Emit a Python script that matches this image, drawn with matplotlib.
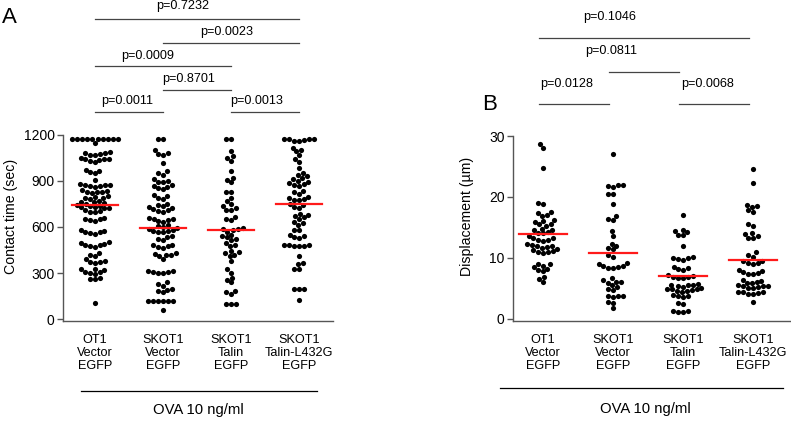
import numpy as np
import matplotlib.pyplot as plt
import matplotlib.transforms as mtransforms
from matplotlib.lines import Line2D

plt.rcParams['font.family'] = ['Liberation Sans', 'DejaVu Sans']

W, H = 791, 422  # output size in pixels

## Data
groups = ['OT1\nVector\nEGFP', 'SKOT1\nVector\nEGFP',
          'SKOT1\nTalin\nEGFP', 'SKOT1\nTalin-L432G\nEGFP']
condition = 'OVA 10 ng/ml'

# Panel A: contact time (sec)
contact_ot1 = [1170, 1170, 1170, 1170, 1170, 1170, 1170, 1170, 1170, 1170,
               1145, 1080, 1075, 1070, 1085, 1065, 1078,
               1040, 1035, 1045, 1030, 1038, 1042, 1020, 965, 970, 955, 950, 905,
               875, 870, 865, 872, 868, 860, 878, 835, 830, 825, 820, 838, 828,
               795, 790, 785, 800, 780, 765, 760, 755, 770, 750,
               735, 730, 725, 740, 720, 728, 738, 705, 700, 695, 710,
               660, 650, 640, 655, 645, 580, 575, 560, 555, 565, 570,
               500, 495, 485, 480, 475, 490, 470, 430, 420, 410,
               390, 380, 370, 365, 375, 330, 325, 320, 310, 300, 305, 295,
               265, 262, 268, 110]
contact_skot1 = [1170, 1170, 1100, 1080, 1075, 1070, 1017, 960, 950, 940,
                 910, 900, 895, 890, 870, 865, 860, 850, 845, 810, 800, 790, 780,
                 750, 745, 735, 730, 720, 715, 710, 705, 700,
                 660, 655, 650, 645, 640, 635, 612, 605, 600, 595, 590,
                 580, 577, 573, 570, 566, 540, 533, 525, 517,
                 485, 480, 475, 470, 465, 430, 425, 420, 415, 410, 390,
                 315, 312, 310, 307, 303, 300, 240, 230, 220, 200, 192, 185, 177,
                 123, 123, 123, 123, 123, 123, 64]
contact_talin = [1170, 1170, 1092, 1060, 1045, 1030, 964, 920, 905, 890,
                 825, 825, 785, 770, 750, 735, 720, 709, 709, 666, 655, 645,
                 592, 588, 585, 580, 570, 550, 540, 533, 525, 517, 496, 485, 475,
                 443, 435, 428, 418, 410, 379, 325, 304, 272, 255, 240,
                 187, 175, 166, 102, 102, 102]
contact_l432g = [1170, 1170, 1170, 1165, 1160, 1160, 1170, 1113, 1100, 1092,
                 1064, 1040, 1021, 985, 953, 940, 930, 920, 910,
                 900, 893, 885, 880, 873, 868, 836, 825, 815,
                 794, 788, 780, 776, 772, 751, 740, 730, 720,
                 687, 678, 670, 662, 655, 634, 625, 613, 581, 581,
                 549, 540, 535, 528, 485, 482, 480, 478, 476, 475,
                 411, 368, 357, 325, 325, 198, 198, 198, 128]
contact_mean = [745, 595, 578, 752]
contact_tests = [(0, 3, 'p=0.7232'), (1, 3, 'p=0.0023'), (0, 2, 'p=0.0009'),
                 (1, 2, 'p=0.8701'), (0, 1, 'p=0.0011'), (2, 3, 'p=0.0013')]

# Panel B: displacement (um)
disp_ot1 = [28.7, 28.0, 24.8, 19.0, 18.8, 17.5, 17.3, 17.0, 16.8, 16.2, 16.0,
            15.8, 15.5, 15.6, 15.2, 14.8, 14.6, 14.5, 14.2, 14.0, 14.1, 13.5,
            13.3, 13.2, 13.0, 12.8, 12.9, 12.2, 12.0, 12.1, 11.9, 11.8, 11.6,
            11.5, 11.2, 11.1, 11.0, 10.9, 10.8, 9.0, 8.9, 8.7, 8.5, 8.2, 8.0,
            7.8, 6.8, 6.5, 6.0]
disp_skot1 = [27.0, 21.9, 21.8, 21.7, 21.9, 20.4, 20.5, 18.8, 16.8, 16.3, 16.2,
              14.4, 13.6, 12.3, 12.0, 11.6, 11.4, 10.4, 10.2, 9.1, 9.0, 8.6,
              8.4, 8.5, 8.4, 8.6, 6.6, 6.3, 6.1, 5.9, 6.0, 5.5, 5.2, 4.9, 4.7,
              3.8, 3.7, 3.6, 3.8, 2.8, 2.6, 1.7]
disp_talin = [17.1, 14.6, 14.4, 14.2, 13.8, 13.7, 12.0, 10.1, 10.0, 9.9, 9.8,
              9.7, 8.5, 8.3, 8.1, 8.0, 7.1, 7.0, 6.9, 6.8, 6.6, 6.7, 5.7, 5.6,
              5.5, 5.4, 5.6, 5.2, 5.0, 4.9, 4.8, 4.7, 4.6, 4.5, 4.4, 4.9, 3.9,
              3.8, 3.6, 3.7, 2.6, 2.4, 1.2, 1.1, 1.2, 1.1]
disp_l432g = [24.6, 22.3, 18.7, 18.5, 18.4, 17.6, 17.8, 15.5, 15.2, 14.0, 13.9,
              13.5, 13.3, 13.2, 10.9, 10.5, 10.2, 9.5, 9.4, 9.2, 9.0, 9.1, 8.0,
              7.8, 7.6, 7.4, 7.3, 7.5, 6.4, 6.2, 6.0, 5.9, 5.8, 5.5, 5.4, 5.2,
              5.1, 5.0, 5.3, 5.4, 4.4, 4.3, 4.2, 4.1, 4.0, 4.3, 2.8]
disp_mean = [13.9, 10.8, 7.0, 9.7]
disp_tests = [(0, 3, 'p=0.1046'), (1, 2, 'p=0.0811'),
              (0, 1, 'p=0.0128'), (2, 3, 'p=0.0068')]

## Layout (pixels): line y, text x, text y for each comparison
contact_bar_px = [(19, 183, 6), (43, 227, 32), (66, 148, 56),
                  (90, 189, 79), (112, 127, 101), (112, 257, 101)]
disp_bar_px = [(38, 610, 17), (72, 611, 51), (104, 567, 84), (104, 708, 84)]

spine_col = '#555555'


def swarm_x(ax, xc, vals, d=5.0):
    # simple beeswarm: offsets in pixel space, returned as data x
    pts = ax.transData.transform(np.column_stack([np.full(len(vals), xc), vals]))
    ys = pts[:, 1]
    x0 = ax.transData.transform((xc, 0))[0]
    offs = np.zeros(len(vals))
    placed = []
    for i in np.argsort(ys):
        y = ys[i]
        forb = []
        for px, py in placed:
            dy = abs(y - py)
            if dy < d:
                w = np.sqrt(d * d - dy * dy)
                forb.append((px - w, px + w))
        cands = [0.0] + [a for a, b in forb] + [b for a, b in forb]
        cands.sort(key=lambda c: (abs(c), c))
        for c in cands:
            if all(not (a + 1e-6 < c < b - 1e-6) for a, b in forb):
                break
        placed.append((c, y))
        offs[i] = c
    inv = ax.transData.inverted()
    return np.array([inv.transform((x0 + o, 0))[0] for o in offs])


def panel(fig, rect, xlim, data, means, ylim, yticks, ylabel, ylabel_px,
          tests, bar_px, bar_shift, under_line_px, cond_px):
    ax = fig.add_axes(rect)
    ax.set_xlim(*xlim)
    ax.set_ylim(*ylim)
    ax.set_yticks(yticks)
    ax.set_xticks([])
    for s in ['top', 'right']:
        ax.spines[s].set_visible(False)
    for s in ['left', 'bottom']:
        ax.spines[s].set_color(spine_col)
        ax.spines[s].set_linewidth(1.0)
    ax.tick_params(axis='y', length=4, width=1.0, color=spine_col,
                   labelsize=10, pad=2)

    for k, vals in enumerate(data):
        xs = swarm_x(ax, k, vals)
        ax.scatter(xs, vals, s=14, color='black', linewidths=0, zorder=3)
        ax.plot([k - 0.34, k + 0.34], [means[k], means[k]], color='#ff1a1a',
                lw=1.6, zorder=4)

    tr = mtransforms.blended_transform_factory(ax.transData, fig.transFigure)
    for k, g in enumerate(groups):
        ax.text(k, 1 - 353 / H, g, transform=tr, ha='center', va='center',
                fontsize=9.1, linespacing=1.1)

    for (i, j, p), (ly, tx, ty) in zip(tests, bar_px):
        fig.add_artist(Line2D([i + bar_shift, j + bar_shift], [1 - ly / H] * 2,
                              transform=tr, color='#444444', lw=0.9))
        fig.text(tx / W, 1 - ty / H, p, ha='center', va='center', fontsize=9.1)

    x0, x1, yl = under_line_px
    fig.add_artist(Line2D([x0 / W, x1 / W], [1 - yl / H] * 2,
                          transform=fig.transFigure, color='black', lw=0.9))
    fig.text(cond_px[0] / W, 1 - cond_px[1] / H, condition, ha='center',
             va='center', fontsize=10.7)
    fig.text(ylabel_px[0] / W, 1 - ylabel_px[1] / H, ylabel, rotation=90,
             ha='center', va='center', fontsize=10.2)
    return ax


fig = plt.figure(figsize=(W / 100, H / 100), dpi=100)

rectA = [63 / W, 1 - 321 / H, 270 / W, (321 - 134.5) / H]
rectB = [513 / W, 1 - 320.5 / H, 277 / W, (320.5 - 136) / H]

panel(fig, rectA, (-0.47, 3.5),
      [contact_ot1, contact_skot1, contact_talin, contact_l432g],
      contact_mean, (-10, 1200), [0, 300, 600, 900, 1200],
      'Contact time (sec)', (11, 216), contact_tests, contact_bar_px, 0.0,
      (81, 317, 391), (198, 410))

panel(fig, rectB, (-0.43, 3.53),
      [disp_ot1, disp_skot1, disp_talin, disp_l432g],
      disp_mean, (-0.3, 30), [0, 10, 20, 30],
      'Displacement (µm)', (467, 216), disp_tests, disp_bar_px, -0.06,
      (500, 783, 388), (645, 409))

fig.text(9.5 / W, 1 - 17.5 / H, 'A', ha='center', va='center', fontsize=16)
fig.text(490 / W, 1 - 104 / H, 'B', ha='center', va='center', fontsize=16)

fig.savefig('out.png', dpi=100)
